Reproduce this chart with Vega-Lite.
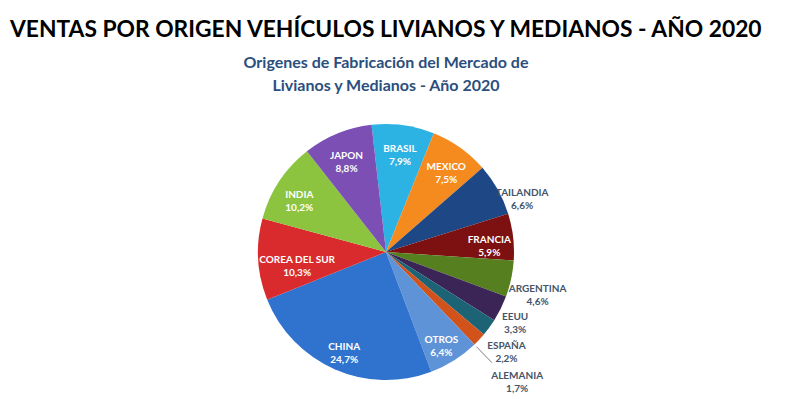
{
  "$schema": "https://vega.github.io/schema/vega-lite/v6.json",
  "background": "white",
  "padding": {"left": 10, "top": 19, "right": 10, "bottom": 0},
  "title": {
    "text": "VENTAS POR ORIGEN VEHÍCULOS LIVIANOS Y MEDIANOS - AÑO 2020",
    "anchor": "start",
    "frame": "group",
    "font": "Lato",
    "fontSize": 22.8,
    "fontWeight": "bold",
    "color": "#000000",
    "offset": 13
  },
  "vconcat": [
    {
      "width": 752,
      "height": 256,
      "title": {
        "text": ["Origenes de Fabricación del Mercado de", "Livianos y Medianos - Año 2020"],
        "anchor": "middle",
        "font": "Lato",
        "fontSize": 16,
        "fontWeight": "bold",
        "color": "#2A4E7E",
        "lineHeight": 23,
        "offset": 30
      },
      "data": {
        "values": [
          {"n": 1, "origen": "BRASIL", "pct": 7.9},
          {"n": 2, "origen": "MEXICO", "pct": 7.5},
          {"n": 3, "origen": "TAILANDIA", "pct": 6.6},
          {"n": 4, "origen": "FRANCIA", "pct": 5.9},
          {"n": 5, "origen": "ARGENTINA", "pct": 4.6},
          {"n": 6, "origen": "EEUU", "pct": 3.3},
          {"n": 7, "origen": "ESPAÑA", "pct": 2.2},
          {"n": 8, "origen": "ALEMANIA", "pct": 1.7},
          {"n": 9, "origen": "OTROS", "pct": 6.4},
          {"n": 10, "origen": "CHINA", "pct": 24.7},
          {"n": 11, "origen": "COREA DEL SUR", "pct": 10.3},
          {"n": 12, "origen": "INDIA", "pct": 10.2},
          {"n": 13, "origen": "JAPON", "pct": 8.8}
        ]
      },
      "transform": [
        {"stack": "pct", "groupby": [], "sort": [{"field": "n", "order": "ascending"}], "as": ["t0", "t1"]},
        {"calculate": "(datum.t0 + datum.t1) / 2", "as": "tm"},
        {"calculate": "datum.origen + '\\n' + replace(format(datum.pct, '.1f'), '.', ',') + '%'", "as": "label"}
      ],
      "layer": [
        {
          "mark": {"type": "arc", "outerRadius": 128},
          "encoding": {
            "theta": {"field": "t0", "type": "quantitative", "scale": {"domain": [0, 100.1], "range": [-0.1134, 6.1698]}},
            "theta2": {"field": "t1"},
            "color": {
              "field": "origen",
              "type": "nominal",
              "legend": null,
              "scale": {
                "domain": ["BRASIL", "MEXICO", "TAILANDIA", "FRANCIA", "ARGENTINA", "EEUU", "ESPAÑA", "ALEMANIA", "OTROS", "CHINA", "COREA DEL SUR", "INDIA", "JAPON"],
                "range": ["#2DB3E3", "#F58A1F", "#1D4785", "#7D1010", "#56801F", "#3B2557", "#1C6475", "#D2521C", "#5E93D8", "#2F73CF", "#D92B2E", "#8CC43F", "#7B4FB3"]
              }
            }
          }
        },
        {
          "transform": [{"filter": "datum.origen == 'ALEMANIA'"}],
          "mark": {"type": "arc", "radius": 153, "radius2": 131, "fill": null, "filled": false, "stroke": "#A6A6A6", "strokeWidth": 1},
          "encoding": {
            "theta": {"field": "t1", "type": "quantitative", "scale": {"domain": [0, 100.1], "range": [-0.1134, 6.1698]}},
            "theta2": {"field": "t1"}
          }
        },
        {
          "transform": [{"filter": "indexof(['BRASIL','MEXICO','FRANCIA','OTROS','CHINA','INDIA','JAPON'], datum.origen) >= 0"}],
          "mark": {"type": "text", "radius": 104, "font": "Lato", "fontSize": 10, "fontWeight": "bold", "lineBreak": "\n", "lineHeight": 13, "align": "center", "baseline": "middle", "color": "#FFFFFF"},
          "encoding": {"text": {"field": "label", "type": "nominal"}, "theta": {"field": "tm", "type": "quantitative", "scale": {"domain": [0, 100.1], "range": [-0.1134, 6.1698]}}}
        },
        {
          "transform": [{"filter": "datum.origen == 'COREA DEL SUR'"}],
          "mark": {"type": "text", "radius": 89, "dy": 3, "font": "Lato", "fontSize": 10, "fontWeight": "bold", "lineBreak": "\n", "lineHeight": 13, "align": "center", "baseline": "middle", "color": "#FFFFFF"},
          "encoding": {"text": {"field": "label", "type": "nominal"}, "theta": {"field": "tm", "type": "quantitative", "scale": {"domain": [0, 100.1], "range": [-0.1134, 6.1698]}}}
        },
        {
          "transform": [{"filter": "datum.origen == 'TAILANDIA'"}],
          "mark": {"type": "text", "radius": 148, "dx": 7, "dy": 13, "font": "Lato", "fontSize": 10, "fontWeight": "bold", "lineBreak": "\n", "lineHeight": 13, "align": "center", "baseline": "middle", "color": "#44546A"},
          "encoding": {"text": {"field": "label", "type": "nominal"}, "theta": {"field": "tm", "type": "quantitative", "scale": {"domain": [0, 100.1], "range": [-0.1134, 6.1698]}}}
        },
        {
          "transform": [{"filter": "datum.origen == 'ARGENTINA'"}],
          "mark": {"type": "text", "radius": 155, "dy": 4, "font": "Lato", "fontSize": 10, "fontWeight": "bold", "lineBreak": "\n", "lineHeight": 13, "align": "center", "baseline": "middle", "color": "#44546A"},
          "encoding": {"text": {"field": "label", "type": "nominal"}, "theta": {"field": "tm", "type": "quantitative", "scale": {"domain": [0, 100.1], "range": [-0.1134, 6.1698]}}}
        },
        {
          "transform": [{"filter": "datum.origen == 'EEUU'"}],
          "mark": {"type": "text", "radius": 144, "dy": 1, "font": "Lato", "fontSize": 10, "fontWeight": "bold", "lineBreak": "\n", "lineHeight": 13, "align": "center", "baseline": "middle", "color": "#44546A"},
          "encoding": {"text": {"field": "label", "type": "nominal"}, "theta": {"field": "tm", "type": "quantitative", "scale": {"domain": [0, 100.1], "range": [-0.1134, 6.1698]}}}
        },
        {
          "transform": [{"filter": "datum.origen == 'ESPAÑA'"}],
          "mark": {"type": "text", "radius": 153, "dx": -3, "dy": 4, "font": "Lato", "fontSize": 10, "fontWeight": "bold", "lineBreak": "\n", "lineHeight": 13, "align": "center", "baseline": "middle", "color": "#44546A"},
          "encoding": {"text": {"field": "label", "type": "nominal"}, "theta": {"field": "tm", "type": "quantitative", "scale": {"domain": [0, 100.1], "range": [-0.1134, 6.1698]}}}
        },
        {
          "transform": [{"filter": "datum.origen == 'ALEMANIA'"}],
          "mark": {"type": "text", "radius": 180, "dy": 1, "font": "Lato", "fontSize": 10, "fontWeight": "bold", "lineBreak": "\n", "lineHeight": 13, "align": "center", "baseline": "middle", "color": "#44546A"},
          "encoding": {"text": {"field": "label", "type": "nominal"}, "theta": {"field": "tm", "type": "quantitative", "scale": {"domain": [0, 100.1], "range": [-0.1134, 6.1698]}}}
        }
      ]
    }
  ],
  "config": {"view": {"stroke": null}, "concat": {"spacing": 0}}
}
